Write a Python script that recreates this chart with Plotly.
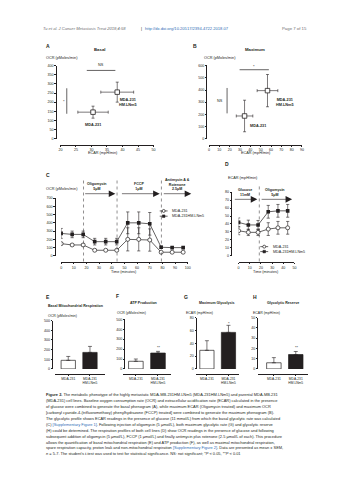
import plotly.graph_objects as go

W, H = 353, 480
def px(x): return x / W
def py(y): return 1 - y / H

FONT = "Liberation Sans, Arial, Helvetica, sans-serif"
BLACK = "#231f20"
GRAY = "#6d6e71"
BLUE = "#2f6db5"

# ---------------- data ----------------
cells = ["MDA-231", "MDA-231 HM.LNm5"]
# A: basal phenogram
a_ecar = [30.5, 38.3]; a_ecar_err = [4.9, 5.3]
a_ocr = [145, 255]; a_ocr_err = [33, 55]
# B: maximum phenogram
b_ecar = [34.4, 56.6]; b_ecar_err = [8, 10]
b_ocr = [186, 395]; b_ocr_err = [130, 133]
# C: respiration profile (OCR)
c_time = [0, 8.7, 17.4, 26.5, 35.2, 43.9, 52.6, 61.3, 70.0, 79.0, 87.7, 96.4]
c_mda = [148, 132, 132, 68, 68, 68, 200, 200, 192, 44, 44, 44]
c_mda_err = [15, 12, 12, 10, 10, 10, 140, 140, 135, 8, 8, 8]
c_hm = [272, 260, 260, 172, 172, 172, 400, 400, 388, 104, 100, 100]
c_hm_err = [60, 40, 40, 40, 40, 40, 132, 132, 137, 15, 12, 12]
# D: glycolytic profile (ECAR)
d_time = [0, 8.7, 17.4, 26.5, 35.2, 43.9]
d_mda = [31.5, 29.5, 29.5, 33.6, 35.2, 35.2]
d_mda_err = [5, 4, 4, 8, 8, 8]
d_hm = [42, 38.8, 38.8, 55.3, 56.5, 56.5]
d_hm_err = [5.6, 6, 5.6, 8, 8, 8]
# E-H bars
bar_labels = ["MDA-231", "MDA-231<br>HM.LNm5"]
e_vals = [89, 171]; e_err = [40, 62]
f_vals = [77, 160]; f_err = [23, 17]
g_vals = [29, 57]; g_err = [15, 11]
h_vals = [6, 14]; h_err = [5, 3]

fig = go.Figure()
layout = dict(width=W, height=H, margin=dict(l=0, r=0, t=0, b=0),
              paper_bgcolor="white", plot_bgcolor="white", showlegend=False,
              font=dict(family=FONT, size=4, color=BLACK))

TF = dict(size=3.6, family=FONT, color=BLACK)
def xax(dom, rng, ypos, dtick=None, tickvals=None, ticktext=None, tf=TF):
    d = dict(domain=[px(dom[0]), px(dom[1])], range=rng, anchor="free", position=py(ypos),
             showline=True, linecolor=BLACK, linewidth=0.7, ticks="outside", ticklen=1.5,
             tickwidth=0.6, tickcolor=BLACK, showgrid=False, zeroline=False, tickfont=tf,
             fixedrange=True)
    if dtick is not None:
        d.update(tick0=rng[0] if rng[0] >= 0 else 0, dtick=dtick)
    if tickvals is not None:
        d.update(tickmode="array", tickvals=tickvals, ticktext=ticktext)
    return d

def yax(dom, rng, xpos, dtick):
    return dict(domain=[py(dom[0]), py(dom[1])], range=rng, anchor="free", position=px(xpos),
                showline=True, linecolor=BLACK, linewidth=0.7, ticks="outside", ticklen=1.5,
                tickwidth=0.6, tickcolor=BLACK, showgrid=False, zeroline=False, tickfont=TF,
                tick0=0, dtick=dtick, fixedrange=True)

# axes
layout["xaxis"] = xax([59.3, 153.7], [20, 50], 144, dtick=5)
layout["yaxis"] = yax([137.7, 64.3], [0, 400], 54.3, 50)
layout["xaxis2"] = xax([210, 304.3], [0, 90], 144, dtick=10)
layout["yaxis2"] = yax([137.7, 64.3], [0, 600], 207.3, 100)
layout["xaxis3"] = xax([60, 188.4], [0, 100], 262.3, dtick=10)
layout["yaxis3"] = yax([256, 197.7], [0, 700], 53.3, 100)
layout["xaxis4"] = xax([240, 296.7], [0, 50], 262.3, dtick=10)
layout["yaxis4"] = yax([256, 191.7], [0, 80], 232.3, 10)
BTF = dict(size=3.3, family=FONT, color=BLACK)
pos = list(range(len(bar_labels)))
layout["xaxis5"] = xax([54, 104], [-0.6, 1.67], 375, tickvals=pos, ticktext=bar_labels, tf=BTF)
layout["yaxis5"] = yax([370, 321.3], [0, 500], 50.7, 100)
layout["xaxis6"] = xax([123, 171.7], [-0.57, 1.6], 375, tickvals=pos, ticktext=bar_labels, tf=BTF)
layout["yaxis6"] = yax([370, 320], [0, 500], 124, 100)
layout["xaxis7"] = xax([196.7, 240], [-0.51, 1.47], 375, tickvals=pos, ticktext=bar_labels, tf=BTF)
layout["yaxis7"] = yax([370, 318.3], [0, 80], 196.7, 20)
layout["xaxis8"] = xax([260, 310], [-0.71, 1.54], 375, tickvals=pos, ticktext=bar_labels, tf=BTF)
layout["yaxis8"] = yax([370, 318.3], [0, 50], 259, 10)

def ebar(arr, w=1.5):
    return dict(type="data", array=arr, color=BLACK, thickness=0.6, width=w)

# A, B phenograms
for xs, xe, ys, ye, ax in [(a_ecar, a_ecar_err, a_ocr, a_ocr_err, ""), (b_ecar, b_ecar_err, b_ocr, b_ocr_err, "2")]:
    fig.add_trace(go.Scatter(x=xs, y=ys, mode="markers", xaxis="x" + ax, yaxis="y" + ax,
                             marker=dict(symbol="square", size=4.5, color="white",
                                         line=dict(color=BLACK, width=0.8)),
                             error_x=ebar(xe), error_y=ebar(ye)))

# C, D time courses
for t, m, me, h, he, ax in [(c_time, c_mda, c_mda_err, c_hm, c_hm_err, "3"),
                            (d_time, d_mda, d_mda_err, d_hm, d_hm_err, "4")]:
    fig.add_trace(go.Scatter(x=t, y=h, mode="lines+markers", xaxis="x" + ax, yaxis="y" + ax,
                             line=dict(color=BLACK, width=0.7),
                             marker=dict(symbol="square", size=3.6, color=BLACK),
                             error_y=ebar(he, 1.6)))
    fig.add_trace(go.Scatter(x=t, y=m, mode="lines+markers", xaxis="x" + ax, yaxis="y" + ax,
                             line=dict(color=BLACK, width=0.7),
                             marker=dict(symbol="circle", size=4, color="white",
                                         line=dict(color=BLACK, width=0.7)),
                             error_y=ebar(me, 1.6)))

# E-H bars
for vals, errs, ax in [(e_vals, e_err, "5"), (f_vals, f_err, "6"), (g_vals, g_err, "7"), (h_vals, h_err, "8")]:
    fig.add_trace(go.Bar(x=pos, y=vals, xaxis="x" + ax, yaxis="y" + ax, width=0.66,
                         marker=dict(color=["white", BLACK], line=dict(color=BLACK, width=0.7)),
                         error_y=dict(type="data", symmetric=False, array=errs, arrayminus=[0] * len(errs),
                                      color=BLACK, thickness=0.6, width=2)))

ann = []
shapes = []
def T(x, y, text, size=4, bold=False, xa="center", color=BLACK, ya="middle"):
    if bold:
        text = "<b>" + text + "</b>"
    ann.append(dict(x=px(x), y=py(y), xref="paper", yref="paper", text=text, showarrow=False,
                    xanchor=xa, yanchor=ya, font=dict(size=size, family=FONT, color=color)))
def L(x0, y0, x1, y1, w=0.7, dash=None):
    ln = dict(color=BLACK, width=w)
    if dash:
        ln["dash"] = dash
    shapes.append(dict(type="line", xref="paper", yref="paper", x0=px(x0), y0=py(y0), x1=px(x1), y1=py(y1), line=ln))
def ARROW(x0, x1, y):
    ann.append(dict(x=px(x1), y=py(y), xref="paper", yref="paper", ax=-(x1 - x0), ay=0, text="",
                    showarrow=True, arrowhead=2, arrowsize=2.2, arrowwidth=0.6, arrowcolor=BLACK))

# header
T(40, 27, "<i>Tu et al. J Cancer Metastasis Treat 2018;4:58</i>", 4.1, xa="left", color=GRAY)
T(139, 27, "|", 4.1, xa="left", color=BLACK)
T(143, 27, "http://dx.doi.org/10.20517/2394-4722.2018.07", 4.1, xa="left", color=BLUE)
T(282, 27, "Page 7 of 15", 4.3, xa="left", color=GRAY)

# panel A
T(47, 44, "A", 5, True)
T(99, 48, "Basal", 4.3, True)
T(43, 56, "OCR (pMoles/min)", 3.8, xa="left")
T(102, 152, "ECAR (mpH/min)", 3.8)
T(92.7, 123.7, "MDA-231", 3.8, True)
T(128, 101, "MDA-231<br>HM.LNm5", 3.8, True)
L(86, 69, 115, 69); T(100.7, 63.5, "NS", 3.8)
L(65.7, 87, 65.7, 112.7); T(62.7, 100, "*", 4)

# panel B
T(195.7, 44.3, "B", 5, True)
T(256.7, 47.5, "Maximum", 4.3, True)
T(203, 56, "OCR (pMoles/min)", 3.8, xa="left")
T(258, 152, "ECAR (mpH/min)", 3.8)
T(260, 125, "MDA-231", 3.8, True)
T(286.7, 101, "MDA-231<br>HM.LNm5", 3.8, True)
L(241, 68.3, 270.7, 68.3); T(256, 65, "*", 4)
L(228.3, 86.7, 228.3, 112.3); T(221, 100, "NS", 3.8)

# panel C
T(46.7, 174, "C", 5, True)
T(43, 189, "OCR (pMoles/min)", 3.8, xa="left")
T(123.3, 272.3, "Time (minutes)", 3.8)
T(96, 186, "Oligomycin<br>5μM", 3.6, True)
T(139.3, 186, "FCCP<br>1μM", 3.6, True)
T(178, 184, "Antimycin A &<br>Rotenone<br>2.5μM", 3.6, True)
ARROW(83.3, 115, 193.3)
ARROW(120.7, 160, 193.3)
ARROW(163, 192, 193.3)
for xv in [82.7, 116.7, 161.7]:
    L(xv, 180, xv, 262.3, 0.5, "dot")
# legend C
L(160, 210.7, 168, 210.7)
shapes.append(dict(type="circle", xref="paper", yref="paper", x0=px(162.5), x1=px(165.5), y0=py(209.2), y1=py(212.2),
                   line=dict(color=BLACK, width=0.7), fillcolor="white"))
T(170, 210.7, "MDA-231", 3.7, xa="left")
L(160, 216, 168, 216)
shapes.append(dict(type="rect", xref="paper", yref="paper", x0=px(162.7), x1=px(165.3), y0=py(214.7), y1=py(217.3),
                   line=dict(color=BLACK, width=0.5), fillcolor=BLACK))
T(170, 216, "MDA-231HM.LNm5", 3.7, xa="left")

# panel D
T(228.3, 163, "D", 5, True)
T(227, 177, "ECAR (mpH/min)", 3.8, xa="left")
T(268.3, 272.3, "Time (minutes)", 3.8)
T(246.7, 192, "Glucose<br>11mM", 3.6, True)
T(276.7, 192, "Oligomycin<br>5μM", 3.6, True)
ARROW(235, 259, 199)
ARROW(262.3, 294.3, 199)
L(261, 186, 261, 262.3, 0.5, "dot")
L(262, 246.7, 270, 246.7)
shapes.append(dict(type="circle", xref="paper", yref="paper", x0=px(264.5), x1=px(267.5), y0=py(245.2), y1=py(248.2),
                   line=dict(color=BLACK, width=0.7), fillcolor="white"))
T(273, 246.7, "MDA-231", 3.7, xa="left")
L(262, 251.7, 270, 251.7)
shapes.append(dict(type="rect", xref="paper", yref="paper", x0=px(264.7), x1=px(267.3), y0=py(250.4), y1=py(253),
                   line=dict(color=BLACK, width=0.5), fillcolor=BLACK))
T(273, 251.7, "MDA-231HM.LNm5", 3.7, xa="left")

# panels E-H
T(46.7, 297.3, "E", 5, True)
T(75, 307, "Basal Mitochondrial Respiration", 3.6, True)
T(45, 316.5, "OCR (pMoles/min)", 3.5, xa="left")
T(117.3, 296.5, "F", 5, True)
T(143.3, 304, "ATP Production", 3.6, True)
T(115, 313.3, "OCR (pMoles/min)", 3.5, xa="left")
T(158.3, 349, "**", 3.8)
T(186.7, 297.3, "G", 5, True)
T(217.7, 304, "Maximum Glycolysis", 3.6, True)
T(185, 313.3, "ECAR (mpH/min)", 3.5, xa="left")
T(230, 324, "*", 4)
T(256.7, 297.3, "H", 5, True)
T(285, 304, "Glycolytic Reserve", 3.6, True)
T(253, 313.3, "ECAR (mpH/min)", 3.5, xa="left")
T(298.3, 349, "**", 3.8)

# caption
sup = lambda s: "<span style='color:%s'>%s</span>" % (BLUE, s)
cap = [
    "<b>Figure 2.</b> The metabolic phenotype of the highly metastatic MDA-MB-231HM.LNm5 (MDA-231HM.LNm5) and parental MDA-MB-231",
    "(MDA-231) cell lines. Baseline oxygen consumption rate (OCR) and extracellular acidification rate (ECAR) calculated in the presence",
    "of glucose were combined to generate the basal phenogram (A), while maximum ECAR (Oligomycin treated) and maximum OCR",
    "[carbonyl cyanide-4-(trifluoromethoxy) phenylhydrazone (FCCP) treated] were combined to generate the maximum phenogram (B).",
    "The glycolytic profile shows ECAR readings in the presence of glucose (11 mmol/L) from which the basal glycolytic rate was calculated",
    "(C) " + sup("[Supplementary Figure 1]") + ". Following injection of oligomycin (5 μmol/L), both maximum glycolytic rate (G) and glycolytic reserve",
    "(H) could be determined. The respiration profiles of both cell lines (D) show OCR readings in the presence of glucose and following",
    "subsequent addition of oligomycin (5 μmol/L), FCCP (1 μmol/L) and finally antimycin plus rotenone (2.5 μmol/L of each). This procedure",
    "allows the quantification of basal mitochondrial respiration (E) and ATP production (F), as well as maximal mitochondrial respiration,",
    "spare respiration capacity, proton leak and non-mitochondrial respiration " + sup("[Supplementary Figure 2]") + ". Data are presented as mean ± SEM,",
    "<i>n</i> = 5-7. The student's <i>t</i>-test was used to test for statistical significance. NS: not significant; *<i>P</i> &lt; 0.05, **<i>P</i> &lt; 0.01",
]
for i, line in enumerate(cap):
    T(43, 395.7 + 6 * i, line, 3.95, xa="left", color=BLACK)

layout["annotations"] = ann
layout["shapes"] = shapes
fig.update_layout(**layout)
fig.write_html("out.html")
